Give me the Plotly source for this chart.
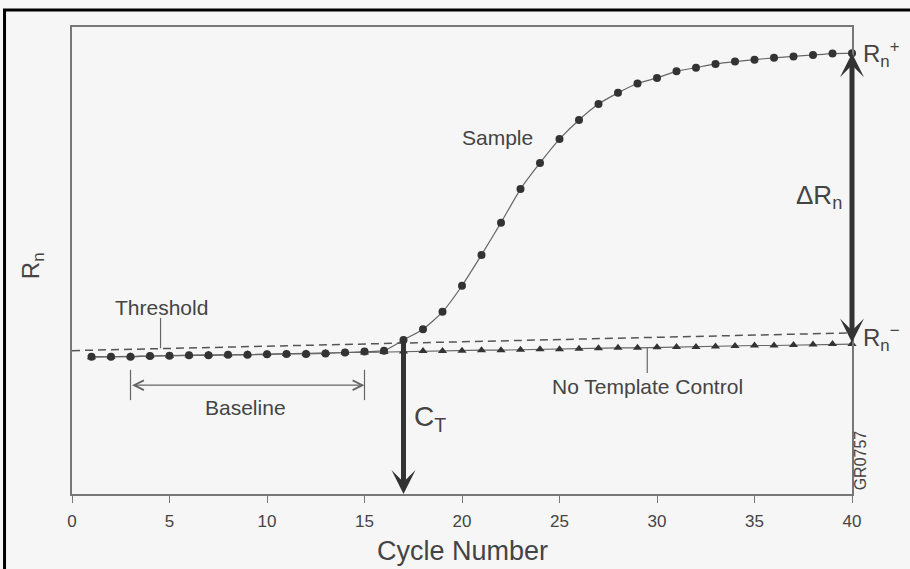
import plotly.graph_objects as go

# ---- data (Rn in arbitrary units, cycle number 1..40) ----
cycles = list(range(1, 41))
sample_rn = [2.94, 2.94, 2.94, 2.955, 2.96, 2.97, 2.97, 2.98, 2.98, 2.99,
             3.00, 3.00, 3.01, 3.03, 3.05, 3.07, 3.30, 3.53, 3.90, 4.46,
             5.12, 5.81, 6.53, 7.09, 7.60, 8.01, 8.35, 8.59, 8.79, 8.91,
             9.05, 9.13, 9.21, 9.26, 9.30, 9.34, 9.37, 9.40, 9.43, 9.44]
ntc_rn = [2.93, 2.94, 2.95, 2.955, 2.96, 2.97, 2.98, 2.98, 2.99, 3.00,
          3.00, 3.01, 3.02, 3.03, 3.03, 3.04, 3.05, 3.06, 3.06, 3.07,
          3.08, 3.08, 3.09, 3.10, 3.10, 3.11, 3.12, 3.13, 3.13, 3.14,
          3.15, 3.15, 3.16, 3.17, 3.18, 3.18, 3.19, 3.20, 3.21, 3.21]
threshold_x = [0, 40]
threshold_y = [3.07, 3.45]
baseline_cycles = [3, 15]
ct_cycle = 17
x_ticks = [0, 5, 10, 15, 20, 25, 30, 35, 40]

TXT = "#444444"
LINE = "#666666"
DARK = "#333333"
BG = "#f6f6f6"
FONT = "Liberation Sans, Arial, Helvetica, sans-serif"

fig = go.Figure()

fig.add_trace(go.Scatter(
    x=threshold_x, y=threshold_y, mode="lines",
    line=dict(color="#555555", width=1.5, dash="8px,5px"),
    hoverinfo="skip", showlegend=False, cliponaxis=False))

fig.add_trace(go.Scatter(
    x=cycles, y=ntc_rn, mode="lines+markers", name="No Template Control",
    line=dict(color=LINE, width=1.2),
    marker=dict(symbol="triangle-up", size=8, color=DARK),
    showlegend=False, cliponaxis=False))

fig.add_trace(go.Scatter(
    x=cycles, y=sample_rn, mode="lines+markers", name="Sample",
    line=dict(color=LINE, width=1.2, shape="spline", smoothing=0.6),
    marker=dict(symbol="circle", size=8, color=DARK),
    showlegend=False, cliponaxis=False))

rn_plus = sample_rn[-1]
rn_minus = ntc_rn[-1]
ct_rn = sample_rn[cycles.index(ct_cycle)]
bl_y = 2.33

ann = []
# C_T arrow
ann.append(dict(x=ct_cycle, y=0, ax=ct_cycle, ay=ct_rn, xref="x", yref="y",
                axref="x", ayref="y", text="", showarrow=True,
                arrowhead=3, arrowsize=0.8, arrowwidth=5, arrowcolor=DARK))
# Delta Rn double arrow
ann.append(dict(x=cycles[-1], y=rn_plus, ax=cycles[-1], ay=rn_minus, xref="x", yref="y",
                axref="x", ayref="y", text="", showarrow=True,
                arrowhead=3, startarrowhead=3, arrowside="end+start",
                arrowsize=0.8, startarrowsize=0.8, arrowwidth=5, arrowcolor=DARK))
# Baseline arrow
ann.append(dict(x=baseline_cycles[1], y=bl_y, ax=baseline_cycles[0], ay=bl_y,
                xref="x", yref="y", axref="x", ayref="y", text="", showarrow=True,
                arrowhead=5, startarrowhead=5, arrowside="end+start",
                arrowsize=1.6, startarrowsize=1.6, arrowwidth=1.2, arrowcolor=LINE))

def label(x, y, text, size=21, xanchor="center", angle=0, xref="x", yref="y"):
    ann.append(dict(x=x, y=y, xref=xref, yref=yref, text=text, showarrow=False,
                    xanchor=xanchor, yanchor="middle", textangle=angle,
                    font=dict(family=FONT, size=size, color=TXT)))

label(4.59, 4.00, "Threshold", 21)
label(21.82, 7.63, "Sample", 21)
label(29.49, 2.31, "No Template Control", 21)
label(8.92, 1.86, "Baseline", 21)
label(17.45, 1.62, "C<sub>T</sub>", 28, xanchor="left")
label(39.6, 6.36, "ΔR<sub>n</sub>", 26, xanchor="right")
label(1.011, rn_plus - 0.02, "R<sub>n</sub><sup>+</sup>", 24, xanchor="left", xref="paper")
label(1.011, rn_minus + 0.12, "R<sub>n</sub><sup>−</sup>", 24, xanchor="left", xref="paper")
label(1.0109, 0.71, "GR0757", 16, angle=-90, xref="paper")
label(-0.0513, 0.49, "R<sub>n</sub>", 24, angle=-90, xref="paper", yref="paper")
label(0.5, -0.122, "Cycle Number", 27, xref="paper", yref="paper")

shapes = []
for bc in baseline_cycles:
    shapes.append(dict(type="line", xref="x", yref="y", x0=bc, x1=bc, y0=2.01, y1=2.66,
                       line=dict(color=LINE, width=1.2)))
# leader lines
shapes.append(dict(type="line", xref="x", yref="y", x0=4.54, x1=4.54, y0=3.12, y1=3.77,
                   line=dict(color=LINE, width=1.2)))
shapes.append(dict(type="line", xref="x", yref="y", x0=29.5, x1=29.5, y0=2.59, y1=3.13,
                   line=dict(color=LINE, width=1.2)))
# scan border (black)
shapes.append(dict(type="line", xref="paper", yref="paper", x0=-0.0885, x1=1.08,
                   y0=1.0364, y1=1.0364, line=dict(color="black", width=3)))
shapes.append(dict(type="line", xref="paper", yref="paper", x0=-0.0865, x1=-0.0865,
                   y0=1.0364, y1=-0.17, line=dict(color="black", width=3)))

fig.update_layout(
    width=910, height=569,
    margin=dict(l=72, r=58, t=27, b=75),
    paper_bgcolor=BG, plot_bgcolor=BG,
    annotations=ann, shapes=shapes, showlegend=False,
    xaxis=dict(range=[0, 40], tickvals=x_ticks, ticks="outside", ticklen=7,
               tickcolor="#777777", showline=True, linecolor="#777777", linewidth=1.5,
               mirror=True, showgrid=False, zeroline=False, ticklabelstandoff=4,
               tickfont=dict(family=FONT, size=17, color=TXT)),
    yaxis=dict(range=[0, 10], showticklabels=False, ticks="", showline=True,
               linecolor="#777777", linewidth=1.5, mirror=True, showgrid=False,
               zeroline=False),
)

fig.write_html(
    "out.html",
    config={"displayModeBar": False},
    post_script="document.body.style.margin='0';document.body.style.background='%s';" % BG,
)
